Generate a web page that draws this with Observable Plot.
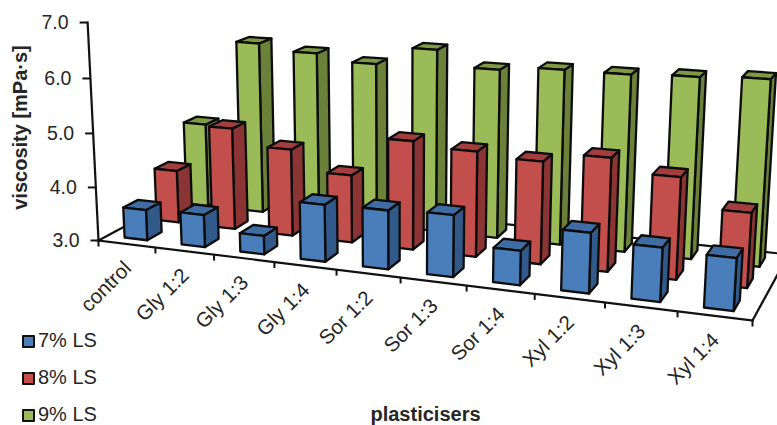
<!DOCTYPE html>
<html>
<head>
<meta charset="utf-8">
<script src="https://cdn.jsdelivr.net/npm/d3@7"></script>
<script src="https://cdn.jsdelivr.net/npm/@observablehq/plot@0.6"></script>
<style>
  html, body { margin: 0; padding: 0; background: #fff; }
  #wrap { position: relative; width: 777px; height: 425px; overflow: hidden; font-family: "Liberation Sans", Arial, sans-serif; color: #262626; }
  #legend { position: absolute; left: 22px; top: 322px; width: 90px; }
  #legend div { height: 37px; line-height: 37px; font-size: 20px; white-space: nowrap; }
  #legend i { display: inline-block; width: 9px; height: 9px; border: 2px solid #111; border-radius: 1px; margin-right: 3px; vertical-align: -1px; }
</style>
</head>
<body>
<div id="wrap"><div id="chart"></div><div id="legend"></div></div>
<script>
const categories = ["control","Gly 1:2","Gly 1:3","Gly 1:4","Sor 1:2","Sor 1:3","Sor 1:4","Xyl 1:2","Xyl 1:3","Xyl 1:4"];
const seriesNames = ["7% LS","8% LS","9% LS"];
const ls7 = [3.57,3.60,3.34,4.03,4.05,4.09,3.60,4.04,3.92,3.88];
const ls8 = [4.00,4.91,4.62,4.25,4.98,4.90,4.83,5.00,4.78,4.29];
const ls9 = [4.62,6.27,6.16,6.04,6.38,6.10,6.18,6.18,6.22,6.27];
const yTicks = [3,4,5,6,7];
const frontColors = ["#4a7ebb","#c24f4c","#9bbb59"];
const sideColors  = ["#31598a","#8a3433","#6b8139"];
const topColors   = ["#3e6ca3","#a23f3e","#7f9a45"];
const seriesValues = [ls7, ls8, ls9];

// Perspective view of the 3D chart box: u runs along the categories, v along the series, h is height above 3.0
const baseValue = 3;
const floor = {x0:98,y0:240,x1:752,y1:320,x2:788,y2:254,x3:191,y3:190};
const vanish = {x:400,y:6300,k:-0.00868};
const homography = (() => {
  const f = floor;
  const dx1=f.x1-f.x2, dx2=f.x3-f.x2, sx=f.x0-f.x1+f.x2-f.x3;
  const dy1=f.y1-f.y2, dy2=f.y3-f.y2, sy=f.y0-f.y1+f.y2-f.y3;
  const det=dx1*dy2-dx2*dy1;
  const g=(sx*dy2-dx2*sy)/det, h=(dx1*sy-sx*dy1)/det;
  return {a:f.x1-f.x0+g*f.x1,b:f.x3-f.x0+h*f.x3,c:f.x0,d:f.y1-f.y0+g*f.y1,e:f.y3-f.y0+h*f.y3,f:f.y0,g,h};
})();
function project(u,v,h){
  const H=homography, K=vanish.k*h;
  const w=1+H.g*u+H.h*v+K;
  return {x:(H.a*u+H.b*v+H.c+K*vanish.x)/w, y:(H.d*u+H.e*v+H.f+K*vanish.y)/w};
}

const n = categories.length, m = seriesNames.length;
const barU = 0.04, barV = 0.15;
const faces = [];
function addFace(id,color,corners){ corners.forEach(c=>{const p=project(c[0],c[1],c[2]); faces.push({id,color,x:p.x,y:p.y});}); }
for (let s=m-1;s>=0;s--) for (let i=0;i<n;i++){
  const uc=(i+.5)/n, vc=(s+.5)/m, h=seriesValues[s][i]-baseValue;
  const u0=uc-barU/2,u1=uc+barU/2,v0=vc-barV/2,v1=vc+barV/2;
  addFace(`${s}-${i}-side`,sideColors[s],[[u1,v0,0],[u1,v1,0],[u1,v1,h],[u1,v0,h]]);
  addFace(`${s}-${i}-top`,topColors[s],[[u0,v0,h],[u1,v0,h],[u1,v1,h],[u0,v1,h]]);
  addFace(`${s}-${i}-front`,frontColors[s],[[u0,v0,0],[u1,v0,0],[u1,v0,h],[u0,v0,h]]);
}
const frameLines = [
  [[0,0,0],[1,0,0]], [[0,0,0],[0,1,0]], [[1,0,0],[1,1,0]], [[0,1,0],[1,1,0]], [[0,0,0],[0,0,yTicks[yTicks.length-1]-baseValue]]
].map(([a,b])=>{const p=project(...a),q=project(...b);return {x1:p.x,y1:p.y,x2:q.x,y2:q.y};});
const yAxis = yTicks.map(t=>({t,...project(0,0,t-baseValue)}));
const xTickPos = d3.range(n+1).map(i=>project(i/n,0,0));
const xLabels = categories.map((c,i)=>({c,...project((i+.5)/n,0,0)}));

const lineOpts = {x1:"x1",y1:"y1",x2:"x2",y2:"y2",stroke:"#111",strokeWidth:2.2};
const fontBase = {fontFamily:'"Liberation Sans", Arial, sans-serif',fill:"#262626"};
const plot = Plot.plot({
  width:777,height:425,margin:0,
  x:{domain:[0,777],range:[0,777],axis:null},
  y:{domain:[0,425],range:[0,425],axis:null},
  style:{background:"#fff",overflow:"hidden"},
  marks:[
    Plot.link(frameLines,{...lineOpts,strokeLinecap:"square"}),
    Plot.link(xTickPos,{x1:"x",y1:"y",x2:"x",y2:d=>d.y+6,stroke:"#111",strokeWidth:2}),
    Plot.link(yAxis,{x1:"x",y1:"y",x2:d=>d.x-8,y2:"y",stroke:"#111",strokeWidth:2}),
    Plot.line(faces,{x:"x",y:"y",z:"id",fill:"color",stroke:"#0c0c0c",strokeWidth:2.3,strokeLinejoin:"round",curve:"linear-closed"}),
    Plot.text(yAxis,{x:d=>d.x-19,y:"y",text:d=>d.t.toFixed(1),textAnchor:"end",fontSize:19.5,...fontBase}),
    Plot.text(xLabels,{x:d=>d.x+1,y:d=>d.y+21,text:"c",rotate:-45,textAnchor:"end",lineAnchor:"middle",fontSize:20.5,...fontBase}),
    Plot.text(["viscosity [mPa·s]"],{frameAnchor:"top-left",dx:20,dy:127,text:d=>d,rotate:-90,textAnchor:"middle",fontSize:20,fontWeight:"bold",lineAnchor:"middle",...fontBase}),
    Plot.text(["plasticisers"],{frameAnchor:"top-left",dx:425,dy:414,text:d=>d,textAnchor:"middle",fontSize:20,fontWeight:"bold",lineAnchor:"middle",...fontBase})
  ]
});
document.getElementById("chart").appendChild(plot);
const legend=document.getElementById("legend");
seriesNames.forEach((name,i)=>{
  const row=document.createElement("div");
  const sw=document.createElement("i"); sw.style.background=frontColors[i];
  row.appendChild(sw); row.appendChild(document.createTextNode(name));
  legend.appendChild(row);
});
</script>
</body>
</html>
